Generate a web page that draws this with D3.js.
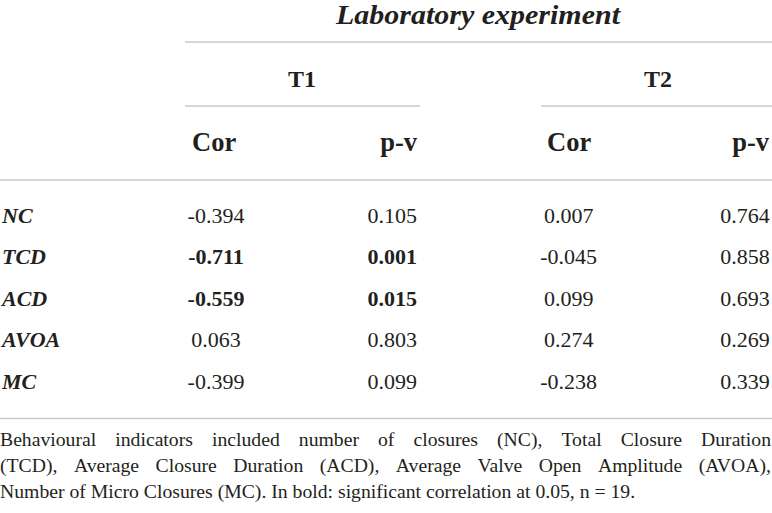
<!DOCTYPE html>
<html>
<head>
<meta charset="utf-8">
<script src="https://cdn.jsdelivr.net/npm/d3@7"></script>
<style>
  body { margin: 0; background: #fff; }
  svg text { font-family: "Liberation Serif", "Times New Roman", serif; fill: #231f20; }
</style>
</head>
<body>
<div id="table"></div>
<script>
var svgWidth = 772;
var svgHeight = 513;

// table content
var rowLabels = ["NC", "TCD", "ACD", "AVOA", "MC"];
var t1Cor = [-0.394, -0.711, -0.559, 0.063, -0.399];
var t1P = [0.105, 0.001, 0.015, 0.803, 0.099];
var t2Cor = [0.007, -0.045, 0.099, 0.274, -0.238];
var t2P = [0.764, 0.858, 0.693, 0.269, 0.339];
var groups = ["T1", "T2"];
var subHeads = ["Cor", "p-v"];
var footLines = [
  "Behavioural indicators included number of closures (NC), Total Closure Duration",
  "(TCD), Average Closure Duration (ACD), Average Valve Open Amplitude (AVOA),",
  "Number of Micro Closures (MC). In bold: significant correlation at 0.05, n = 19."
];
var alpha = 0.05;

var lineColor = "#c9c9c9";

var svg = d3.select("#table")
  .append("svg")
  .attr("width", svgWidth)
  .attr("height", svgHeight);

// hyphen minus like the printed table
var fmt = d3.formatLocale({decimal: ".", thousands: ",", grouping: [3], currency: ["", ""], minus: "-"}).format(".3f");

// scales for the body cells
var yRow = d3.scalePoint().domain(rowLabels).range([223, 388.5]);
var colKeys = ["t1c", "t1p", "t2c", "t2p"];
var xCol = d3.scalePoint().domain(colKeys).range([216, 745]);
var xGroup = d3.scaleOrdinal().domain(groups).range([302, 658]);

function hline(x1, x2, y) {
  svg.append("line")
    .attr("x1", x1).attr("x2", x2)
    .attr("y1", y).attr("y2", y)
    .attr("stroke", lineColor)
    .attr("stroke-width", 1.6);
}

// title spanning header (Minion is wider than Times, so stretch a bit)
svg.append("text")
  .attr("x", 478).attr("y", 24)
  .attr("text-anchor", "middle")
  .attr("font-size", 26.5)
  .attr("font-weight", "bold")
  .attr("font-style", "italic")
  .attr("textLength", 284)
  .attr("lengthAdjust", "spacingAndGlyphs")
  .text("Laboratory experiment");
hline(185, 772, 42);

// T1 / T2
svg.selectAll(".grp")
  .data(groups)
  .enter()
  .append("text")
  .attr("class", "grp")
  .attr("x", d => xGroup(d))
  .attr("y", 87)
  .attr("text-anchor", "middle")
  .attr("font-size", 24)
  .attr("font-weight", "bold")
  .text(d => d);
hline(185, 420, 106);
hline(541, 772, 106);

// Cor / p-v
var subPos = [
  {t: subHeads[0], x: 192, a: "start"},
  {t: subHeads[1], x: 417, a: "end"},
  {t: subHeads[0], x: 547, a: "start"},
  {t: subHeads[1], x: 769, a: "end"}
];
svg.selectAll(".sub")
  .data(subPos)
  .enter()
  .append("text")
  .attr("class", "sub")
  .attr("x", d => d.x)
  .attr("y", 151)
  .attr("text-anchor", d => d.a)
  .attr("font-size", 26.5)
  .attr("font-weight", "bold")
  .text(d => d.t);
hline(0, 772, 180);

// row labels
svg.selectAll(".rlab")
  .data(rowLabels)
  .enter()
  .append("text")
  .attr("class", "rlab")
  .attr("x", 2)
  .attr("y", d => yRow(d))
  .attr("font-size", 22)
  .attr("font-weight", "bold")
  .attr("font-style", "italic")
  .text(d => d);

// body cells, bold where the T1/T2 p-value is significant
var cells = [];
rowLabels.forEach(function(r, i) {
  cells.push({row: r, col: "t1c", v: t1Cor[i], b: t1P[i] < alpha});
  cells.push({row: r, col: "t1p", v: t1P[i], b: t1P[i] < alpha});
  cells.push({row: r, col: "t2c", v: t2Cor[i], b: t2P[i] < alpha});
  cells.push({row: r, col: "t2p", v: t2P[i], b: t2P[i] < alpha});
});

svg.selectAll(".cell")
  .data(cells)
  .enter()
  .append("text")
  .attr("class", "cell")
  .attr("x", d => xCol(d.col))
  .attr("y", d => yRow(d.row))
  .attr("text-anchor", "middle")
  .attr("font-size", 22)
  .attr("font-weight", d => d.b ? "bold" : "normal")
  .text(d => fmt(d.v));

hline(0, 772, 418.5);

// footnote, justified except for the last line
var footSize = 19.7;
var footY = [446, 472, 497.5];
footLines.forEach(function(line, i) {
  var words = line.split(" ");
  var g = svg.append("g");
  var ws = g.selectAll("text")
    .data(words)
    .enter()
    .append("text")
    .attr("y", footY[i])
    .attr("font-size", footSize)
    .text(d => d);
  var widths = [];
  ws.each(function() { widths.push(this.getComputedTextLength()); });
  var total = d3.sum(widths);
  var gap = i < footLines.length - 1 ? (svgWidth - 1 - total) / (words.length - 1) : footSize * 0.25;
  var x = 0;
  ws.attr("x", function(d, k) {
    var pos = x;
    x += widths[k] + gap;
    return pos;
  });
});
</script>
</body>
</html>
